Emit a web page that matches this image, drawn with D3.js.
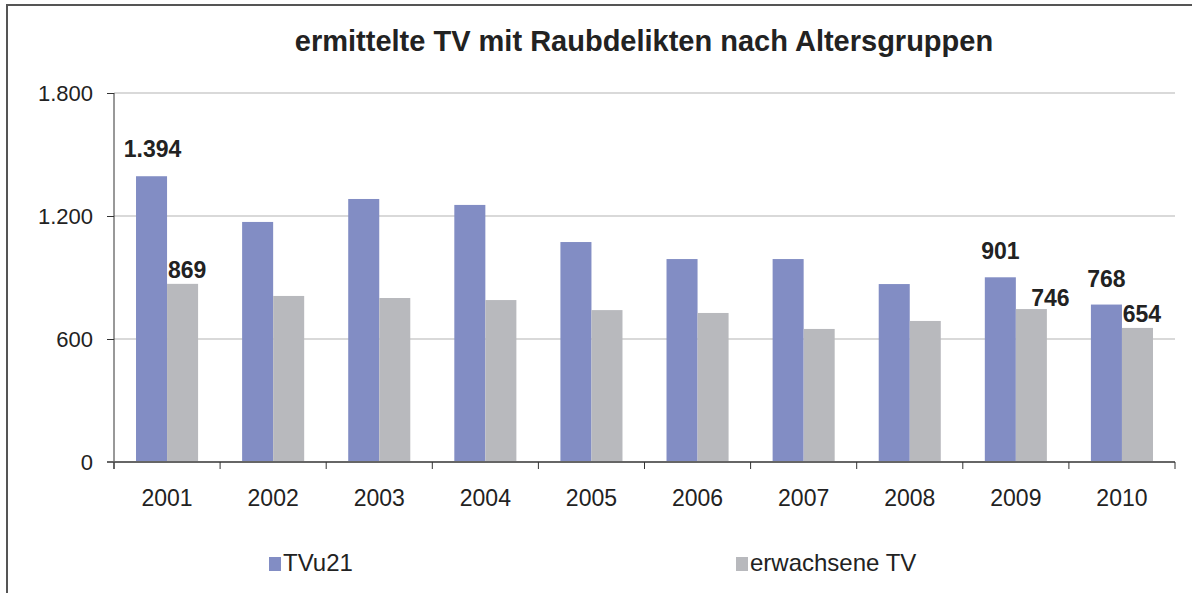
<!DOCTYPE html>
<html><head><meta charset="utf-8">
<script src="https://cdn.jsdelivr.net/npm/d3@7"></script>
<style>body{margin:0;background:#fff}svg{display:block}text{font-family:"Liberation Sans",Arial,sans-serif}</style>
</head><body><svg id="c" width="1192" height="593"></svg>
<script>
const title = "ermittelte TV mit Raubdelikten nach Altersgruppen";
const years = ["2001","2002","2003","2004","2005","2006","2007","2008","2009","2010"];
const seriesNames = ["TVu21","erwachsene TV"];
const tvu21 = [1394,1171,1283,1254,1073,990,990,868,901,768];
const erwachsene = [869,810,800,790,741,727,649,688,746,654];
const yTicks = [0,600,1200,1800];
// labelled values: [year, series index, text]
const labelled = [["2001",0,"1.394"],["2001",1,"869"],["2009",0,"901"],["2009",1,"746"],["2010",0,"768"],["2010",1,"654"]];

const colors = ["#828dc4","#b8b9bd"];
const svg = d3.select("#c");
const W=1192,H=593;
const m = {l:114,r:1175,t:93,b:462};
const FF = "Liberation Sans, Arial, sans-serif";

// frame (top and left border)
svg.append("path").attr("d",`M7,${H} L7,5 L${W},5`).attr("fill","none").attr("stroke","#555").attr("stroke-width",2);

svg.append("text").attr("x",644).attr("y",51).attr("text-anchor","middle")
  .attr("font-size",29).attr("font-weight","bold").attr("fill","#222").text(title);

const x = d3.scaleBand().domain(years).range([m.l,m.r]).paddingInner(0.415).paddingOuter(0.2075);
const x0 = d3.scaleBand().domain(years).range([m.l,m.r]);
const xs = d3.scaleBand().domain([0,1]).range([0,x.bandwidth()]);
const y = d3.scaleLinear().domain([0,1800]).range([m.b,m.t]);

// gridlines
svg.append("g").selectAll("line").data(yTicks.filter(d=>d>0)).join("line")
  .attr("x1",m.l).attr("x2",m.r).attr("y1",d=>y(d)).attr("y2",d=>y(d))
  .attr("stroke","#d9d9d9").attr("stroke-width",2);

const fmt = d3.formatLocale({decimal:",",thousands:".",grouping:[3],currency:["","€"]}).format(",d");

// bars
const data = years.map((yr,i)=>({yr,vals:[tvu21[i],erwachsene[i]]}));
const g = svg.append("g");
data.forEach(d=>{
  d.vals.forEach((v,s)=>{
    g.append("rect").attr("x",x(d.yr)+xs(s)).attr("width",xs.bandwidth())
     .attr("y",y(v)).attr("height",y(0)-y(v)).attr("fill",colors[s]);
  });
});

// y axis
const ya = svg.append("g").attr("transform",`translate(${m.l},0)`)
  .call(d3.axisLeft(y).tickValues(yTicks).tickFormat(fmt).tickSize(7).tickPadding(14));
ya.select(".domain").attr("stroke","#333").attr("d",`M-0,${m.t}V${m.b+7}`);
ya.selectAll(".tick line").attr("stroke","#333");
ya.selectAll("text").attr("font-size",22).attr("fill","#222").attr("font-family",FF);

// x axis
const xa = svg.append("g").attr("transform",`translate(0,${m.b})`)
  .call(d3.axisBottom(x0).tickSize(0).tickPadding(28));
xa.select(".domain").attr("stroke","#666").attr("stroke-width",2).attr("d",`M${m.l-7},0H${m.r}`);
xa.selectAll("text").attr("font-size",23).attr("fill","#222").attr("font-family",FF);
svg.append("g").selectAll("line").data(years.map(yy=>x0(yy)+x0.bandwidth()).concat([m.l])).join("line")
  .attr("x1",d=>d).attr("x2",d=>d).attr("y1",m.b).attr("y2",m.b+7).attr("stroke","#333");

// data labels
const lblOff = {"2001-0":[1,-19],"2001-1":[4.5,-6],"2009-0":[0,-18],"2009-1":[19,-3],"2010-0":[0,-18],"2010-1":[4.5,-6]};
svg.append("g").selectAll("text").data(labelled).join("text")
  .attr("x",d=>x(d[0])+xs(d[1])+xs.bandwidth()/2+lblOff[d[0]+"-"+d[1]][0])
  .attr("y",d=>y(d[1]===0?tvu21[years.indexOf(d[0])]:erwachsene[years.indexOf(d[0])])+lblOff[d[0]+"-"+d[1]][1])
  .attr("text-anchor","middle").attr("font-size",23).attr("font-weight","bold").attr("fill","#222")
  .text(d=>d[2]);

// legend
const leg = [{n:seriesNames[0],c:colors[0],x:269},{n:seriesNames[1],c:colors[1],x:736}];
const lg = svg.append("g").selectAll("g").data(leg).join("g").attr("transform",d=>`translate(${d.x},557)`);
lg.append("rect").attr("width",12).attr("height",14).attr("fill",d=>d.c);
lg.append("text").attr("x",14).attr("y",14).attr("font-size",24).attr("fill","#222").text(d=>d.n);
</script></body></html>
